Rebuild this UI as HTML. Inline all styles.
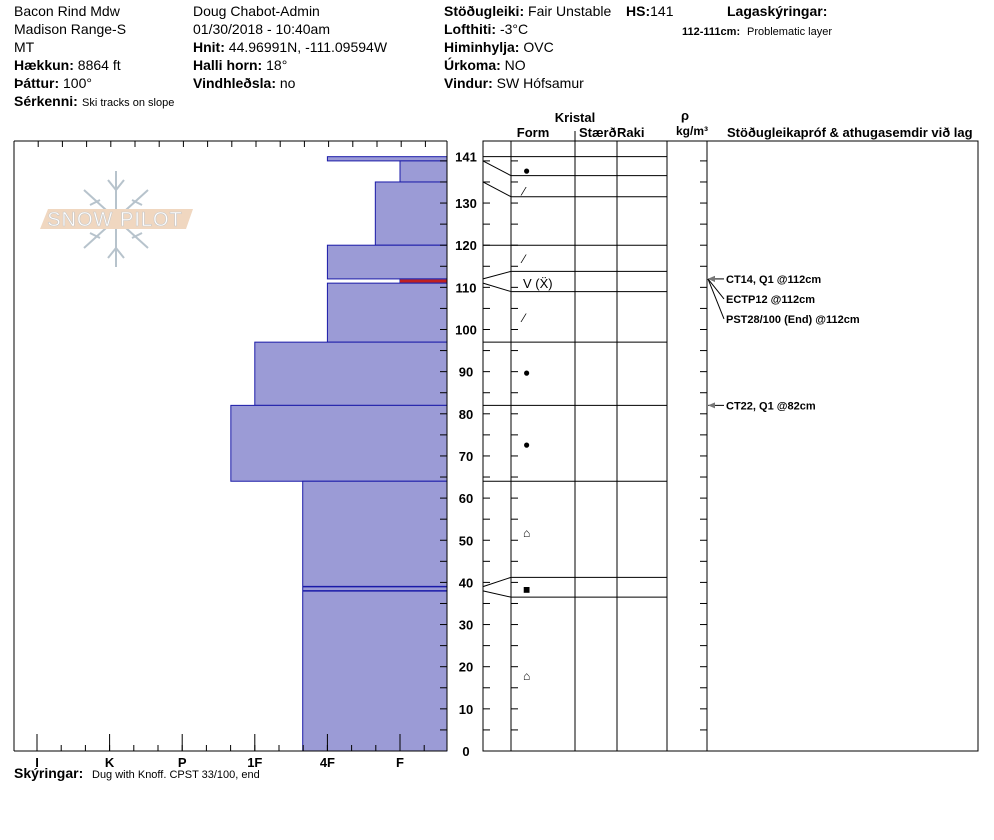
<!DOCTYPE html>
<html><head><meta charset="utf-8"><style>
body{margin:0;background:#fff;width:994px;height:840px;overflow:hidden;font-family:"Liberation Sans",Arial,sans-serif;}
svg{position:absolute;left:0;top:0}
text{font-family:"Liberation Sans",Arial,sans-serif;}
</style></head><body>
<svg id="c" width="994" height="840"></svg>
<script>
const depthTop=[141,140,135,120,112,111,97,82,64];
const depthBot=[140,135,120,112,111,97,82,64,0];
const hardness=[1,0,0.34,1,0,1,2,2.33,1.34];
const layerColors=["#9b9bd6","#9b9bd6","#9b9bd6","#9b9bd6","#9b9bd6","#9b9bd6","#9b9bd6","#9b9bd6","#9b9bd6"];
const hardLabels=["F","4F","1F","P","K","I"];
const depthTicks=[0,10,20,30,40,50,60,70,80,90,100,110,120,130,141];
const gridDepths=[141,140,135,120,112,111,97,82,64,39,38];
const gridRight=[141,136.5,131.5,120,113.8,109,97,82,64,41.2,36.5];
const thinLines=[39,38];
const forms=[["●",138],["⁄",133],["⁄",117],["V (Ẍ)",111],["⁄",103],["●",90],["●",73],["⌂",52],["■",38.5],["⌂",18]];
const tests=[["CT14, Q1 @112cm",112,0],["ECTP12 @112cm",112,1],["PST28/100 (End) @112cm",112,2],["CT22, Q1 @82cm",82,0]];

const S=document.getElementById('c');const NS="http://www.w3.org/2000/svg";
function y(d){return 751-d*4.215;}
function x(h){return 400-h*72.6;}
function el(t,a,txt){const e=document.createElementNS(NS,t);for(const k in a)e.setAttribute(k,a[k]);if(txt!==undefined)e.textContent=txt;S.appendChild(e);return e;}
function ln(x1,y1,x2,y2,c,w){return el('line',{x1,y1,x2,y2,stroke:c||'#000','stroke-width':w||1});}
function tx(X,Y,s,o){o=o||{};return el('text',Object.assign({x:X,y:Y,'font-size':o.fs||14,'font-weight':o.b?'bold':'normal','text-anchor':o.a||'start',fill:'#000'},o.extra||{}),s);}

// header
const hdr=[[14,16,"","Bacon Rind Mdw"],[14,34,"","Madison Range-S"],[14,52,"","MT"],[14,70,"Hækkun:"," 8864 ft"],[14,88,"Þáttur:"," 100°"],
[193,16,"","Doug Chabot-Admin"],[193,34,"","01/30/2018 - 10:40am"],[193,52,"Hnit:"," 44.96991N, -111.09594W"],[193,70,"Halli horn:"," 18°"],[193,88,"Vindhleðsla:"," no"],
[444,16,"Stöðugleiki:"," Fair Unstable "],[444,34,"Lofthiti:"," -3°C"],[444,52,"Himinhylja:"," OVC"],[444,70,"Úrkoma:"," NO"],[444,88,"Vindur:","  SW Hófsamur"]];
hdr.forEach(h=>{const t=tx(h[0],h[1],"");
 if(h[2]){const a=document.createElementNS(NS,'tspan');a.setAttribute('font-weight','bold');a.textContent=h[2];t.appendChild(a);}
 const b=document.createElementNS(NS,'tspan');b.textContent=h[3];t.appendChild(b);});
const hs=tx(626,16,"");const hb=document.createElementNS(NS,'tspan');hb.setAttribute('font-weight','bold');hb.textContent="HS:";hs.appendChild(hb);const hv=document.createElementNS(NS,'tspan');hv.textContent="141";hs.appendChild(hv);
tx(14,106,"Sérkenni:",{b:1});
tx(82,106,"Ski tracks on slope",{fs:11});
tx(727,16,"Lagaskýringar:",{b:1});
tx(682,35,"112-111cm:",{fs:11,b:1});tx(747,35,"Problematic layer",{fs:11});
tx(14,778,"Skýringar:",{b:1});
tx(92,778,"Dug with Knoff. CPST 33/100, end",{fs:11});

// logo
const g=el('g',{stroke:'#b7c3cc','stroke-width':2,fill:'none'});
[[116,171,116,267],[84,190,148,248],[84,248,148,190],[108,180,116,190],[124,180,116,190],[108,258,116,248],[124,258,116,248],[90,205,100,200],[142,205,132,200],[90,233,100,238],[142,233,132,238]].forEach(l=>{const e=document.createElementNS(NS,'line');e.setAttribute('x1',l[0]);e.setAttribute('y1',l[1]);e.setAttribute('x2',l[2]);e.setAttribute('y2',l[3]);g.appendChild(e);});
el('polygon',{points:"48,209 193,209 186,229 40,229",fill:'#f0d7c0'});
tx(115,226,"SNOW PILOT",{fs:20,a:'middle',extra:{fill:'#fff',stroke:'#c9c9c9','stroke-width':0.6,'letter-spacing':'1'}});

// left chart bars
for(let i=0;i<depthTop.length;i++){
 const r=el('rect',{x:x(hardness[i]),y:y(depthTop[i]),width:447-x(hardness[i]),height:y(depthBot[i])-y(depthTop[i]),fill:layerColors[i],stroke:'#1a1aa8','stroke-width':1});
 
}
ln(x(0),y(111.5),447,y(111.5),'#c02020',3);
thinLines.forEach(d=>ln(x(1.34),y(d),447,y(d),'#1a1aa8',1.5));
// left frame
ln(14,141,447,141);ln(14,141,14,751);ln(14,751,447,751);ln(447,141,447,751);
for(let i=0;i<18;i++){const X=14+i*24.2;if(X<447)ln(X,141,X,147);}
for(let i=-1;i<20;i++){const X=37+i*24.2;if(X>14&&X<447)ln(X,751,X,745);}
hardLabels.forEach((l,i)=>{ln(x(i),751,x(i),734);const t=tx(x(i),767,l,{fs:13,b:1,a:'middle'});});
for(let d=0;d<=140;d+=5){ln(440,y(d),447,y(d));ln(483,y(d),490,y(d));ln(511,y(d),518,y(d));ln(700,y(d),707,y(d));}
depthTicks.forEach(d=>{const t=tx(466,y(d)+5,String(d),{fs:13,b:1,a:'middle'});});

// right panel
el('rect',{x:483,y:141,width:495,height:610,fill:'none',stroke:'#000'});
[511,575,617,667,707].forEach(X=>ln(X,141,X,751));
ln(575,131,575,141);
gridDepths.forEach((d,i)=>{const yr=y(gridRight[i]);ln(483,y(d),511,yr);ln(511,yr,667,yr);});
tx(575,122,"Kristal",{fs:13,b:1,a:'middle'});
tx(533,137,"Form",{fs:13,b:1,a:'middle'});
tx(579,137,"Stærð",{fs:13,b:1});tx(617,137,"Raki",{fs:13,b:1});
tx(685,120,"ρ",{fs:13,b:1,a:'middle'});tx(692,135,"kg/m³",{fs:12,b:1,a:'middle'});
tx(727,137,"Stöðugleikapróf & athugasemdir við lag",{fs:13,b:1});
forms.forEach(f=>{const t=tx(523,y(f[1])+5,f[0],{fs:f[0].length>2?13:12});});
tests.forEach(t=>{const yy=y(t[1]);const ty=yy+t[2]*20;
 ln(708,yy,724,ty,'#000',1);el('polygon',{points:`${708},${yy} ${715},${yy-3} ${715},${yy+3}`,fill:'#777'});
 const e=tx(726,ty+4,t[0],{fs:11,b:1});});
</script>
</body></html>
